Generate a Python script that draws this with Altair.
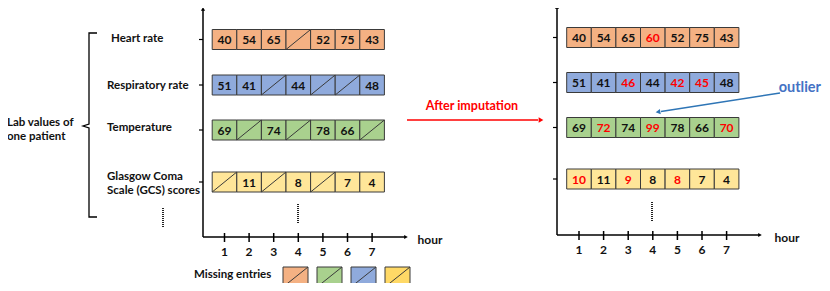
import altair as alt
import pandas as pd

# ---------------- data ----------------
rows = ["Heart rate", "Respiratory rate", "Temperature", "Glasgow Coma\nScale (GCS) scores"]
hours = [1, 2, 3, 4, 5, 6, 7]
observed = [
    [40, 54, 65, None, 52, 75, 43],
    [51, 41, None, 44, None, None, 48],
    [69, None, 74, None, 78, 66, None],
    [None, 11, None, 8, None, 7, 4],
]
imputed = [
    [40, 54, 65, 60, 52, 75, 43],
    [51, 41, 46, 44, 42, 45, 48],
    [69, 72, 74, 99, 78, 66, 70],
    [10, 11, 9, 8, 8, 7, 4],
]
row_colors = ["#F4B183", "#8FAADC", "#A9D18E", "#FFE699"]
legend_colors = ["#F4B183", "#A9D18E", "#8FAADC", "#FFD966"]

# ---------------- layout ----------------
FONT = "Lato"
panels = {
    "before": dict(x1=224.5, step=24.6, rows_y=[39.5, 85, 130, 182], h=20, ax=203, ay=237, top=7,
                   xend=408, hourx=430, tly=252, dotx=298, doty=(204, 223)),
    "after": dict(x1=579, step=24.6, rows_y=[37.5, 82.5, 127.5, 179], h=20, ax=557, ay=235, top=5,
                  xend=762, hourx=787, tly=250, dotx=652, doty=(202, 222)),
}

xs = alt.Scale(domain=[8, 822], nice=False, zero=False)
ys = alt.Scale(domain=[8, 283], nice=False, zero=False, reverse=True)


def X(f):
    return alt.X(f, type="quantitative", scale=xs, axis=None)


def Y(f):
    return alt.Y(f, type="quantitative", scale=ys, axis=None)


cells, diags, texts, rules, tris = [], [], [], [], []
for pname, P in panels.items():
    vals = observed if pname == "before" else imputed
    for r, yc in enumerate(P["rows_y"]):
        for i, hr in enumerate(hours):
            xc = P["x1"] + (hr - 1) * P["step"]
            x0, x1 = xc - P["step"] / 2, xc + P["step"] / 2
            y0, y1 = yc - P["h"] / 2, yc + P["h"] / 2
            cells.append(dict(x=x0, x2=x1, y=y0, y2=y1, fill=row_colors[r]))
            v = vals[r][i]
            if v is None:
                diags.append(dict(x=x0, y=y1, x2=x1, y2=y0))
            else:
                red = pname == "after" and observed[r][i] is None
                texts.append(dict(x=xc, y=yc + 0.5, t=str(v), c="#FF0000" if red else "#111111"))
        # y ticks
        rules.append(dict(x=P["ax"] - 4, x2=P["ax"], y=yc, y2=yc, w=1.2, c="#000000"))
    # axes
    rules.append(dict(x=P["ax"], x2=P["ax"], y=P["ay"], y2=P["top"] + 3, w=1.5, c="#000000"))
    rules.append(dict(x=P["ax"], x2=P["xend"] - 3, y=P["ay"], y2=P["ay"], w=1.5, c="#000000"))
    tris.append(dict(x=P["ax"], y=P["top"] + 2, shape="triangle-up", c="#000000", s=18, a=0))
    tris.append(dict(x=P["xend"] - 2, y=P["ay"], shape="triangle-right", c="#000000", s=18, a=0))
    for hr in hours:
        xc = P["x1"] + (hr - 1) * P["step"]
        rules.append(dict(x=xc, x2=xc, y=P["ay"] - 4, y2=P["ay"] + 5, w=1.5, c="#000000"))
        texts.append(dict(x=xc, y=P["tly"], t=str(hr), c="#111111"))
    texts.append(dict(x=P["hourx"], y=P["ay"] + 3, t="hour", c="#111111"))

cells_df = pd.DataFrame(cells)
diag_df = pd.DataFrame(diags)
text_df = pd.DataFrame(texts)
rules_df = pd.DataFrame(rules)

# legend swatches
leg_x = [283, 317, 351, 385]
leg = []
for lx, col in zip(leg_x, legend_colors):
    leg.append(dict(x=lx, x2=lx + 25, y=267, y2=287, fill=col))
leg_df = pd.DataFrame(leg)
leg_diag = pd.DataFrame([dict(x=d["x"], y=d["y2"], x2=d["x2"], y2=d["y"]) for d in leg])

# dotted lines
dots_df = pd.DataFrame([
    dict(x=panels["before"]["dotx"], y=panels["before"]["doty"][0], y2=panels["before"]["doty"][1]),
    dict(x=panels["after"]["dotx"], y=panels["after"]["doty"][0], y2=panels["after"]["doty"][1]),
    dict(x=163, y=208, y2=227),
])

# brace
brace_df = pd.DataFrame(dict(
    x=[97, 89, 89, 83, 89, 89, 97],
    y=[33, 33, 124, 126, 128, 217, 217],
    o=list(range(7)),
))

# arrows
red_arrow = pd.DataFrame([dict(x=407, x2=538, y=120, y2=120)])
blue_arrow = pd.DataFrame([dict(x=780, x2=661, y=93, y2=111.5)])
tris.append(dict(x=541, y=120, shape="triangle-right", c="#FF0000", s=30, a=0))
tris.append(dict(x=658, y=112, shape="triangle-left", c="#2E75B6", s=30, a=351))
tri_df = pd.DataFrame(tris)

labels_left = pd.DataFrame([
    dict(x=111, y=39, t="Heart rate"),
    dict(x=107, y=86, t="Respiratory rate"),
    dict(x=107, y=128, t="Temperature"),
    dict(x=107, y=177, t=rows[3]),
    dict(x=7, y=123, t="Lab values of\none patient"),
    dict(x=194, y=275, t="Missing entries"),
])
other_text = pd.DataFrame([
    dict(x=472, y=106, t="After imputation", c="#FF0000", s=12.5),
])
outlier_text = pd.DataFrame([dict(x=821, y=88, t="outlier", c="#4472C4", s=14.5)])

# ---------------- chart ----------------
rect_l = alt.Chart(cells_df).mark_rect(stroke="#3A3A3A", strokeWidth=1).encode(
    x=X("x"), x2="x2", y=Y("y"), y2="y2", fill=alt.Fill("fill:N", scale=None))
diag_l = alt.Chart(diag_df).mark_rule(color="#3A3A3A", strokeWidth=1).encode(
    x=X("x"), y=Y("y"), x2="x2", y2="y2")
legr_l = alt.Chart(leg_df).mark_rect(stroke="#3A3A3A", strokeWidth=1).encode(
    x=X("x"), x2="x2", y=Y("y"), y2="y2", fill=alt.Fill("fill:N", scale=None))
legd_l = alt.Chart(leg_diag).mark_rule(color="#3A3A3A", strokeWidth=1).encode(
    x=X("x"), y=Y("y"), x2="x2", y2="y2")
rule_l = alt.Chart(rules_df).mark_rule().encode(
    x=X("x"), x2="x2", y=Y("y"), y2="y2",
    strokeWidth=alt.StrokeWidth("w:Q", scale=None), color=alt.Color("c:N", scale=None))
tri_l = alt.Chart(tri_df).mark_point(filled=True, opacity=1).encode(
    x=X("x"), y=Y("y"), shape=alt.Shape("shape:N", scale=None),
    color=alt.Color("c:N", scale=None), size=alt.Size("s:Q", scale=None),
    angle=alt.Angle("a:Q", scale=None))
dots_l = alt.Chart(dots_df).mark_rule(color="#222222", strokeWidth=2, strokeDash=[1, 1]).encode(
    x=X("x"), y=Y("y"), y2="y2")
brace_l = alt.Chart(brace_df).mark_line(color="#000000", strokeWidth=1.3).encode(
    x=X("x"), y=Y("y"), order="o:Q")
red_l = alt.Chart(red_arrow).mark_rule(color="#FF0000", strokeWidth=1.5).encode(
    x=X("x"), x2="x2", y=Y("y"), y2="y2")
blue_l = alt.Chart(blue_arrow).mark_rule(color="#2E75B6", strokeWidth=1.5).encode(
    x=X("x"), x2="x2", y=Y("y"), y2="y2")
num_l = alt.Chart(text_df).mark_text(font=FONT, fontWeight="bold", fontSize=12, baseline="middle").encode(
    x=X("x"), y=Y("y"), text="t:N", color=alt.Color("c:N", scale=None))
lab_l = alt.Chart(labels_left).mark_text(font=FONT, fontWeight="bold", fontSize=11.5, align="left",
                                         baseline="middle", lineBreak="\n", lineHeight=14,
                                         color="#111111").encode(
    x=X("x"), y=Y("y"), text="t:N")
oth_l = alt.Chart(other_text).mark_text(font=FONT, fontWeight="bold", baseline="middle").encode(
    x=X("x"), y=Y("y"), text="t:N", color=alt.Color("c:N", scale=None),
    size=alt.Size("s:Q", scale=None))
out_l = alt.Chart(outlier_text).mark_text(font=FONT, fontWeight="bold", baseline="middle",
                                          align="right").encode(
    x=X("x"), y=Y("y"), text="t:N", color=alt.Color("c:N", scale=None),
    size=alt.Size("s:Q", scale=None))

chart = alt.layer(
    rect_l, diag_l, legr_l, legd_l, rule_l, tri_l, dots_l, brace_l, red_l, blue_l,
    num_l, lab_l, oth_l, out_l
).properties(
    width=814, height=275, padding=0, autosize=alt.AutoSizeParams(type="none"),
    background="white"
).configure_view(stroke=None)

chart.save("out.html", embed_options={"renderer": "svg", "actions": False})
